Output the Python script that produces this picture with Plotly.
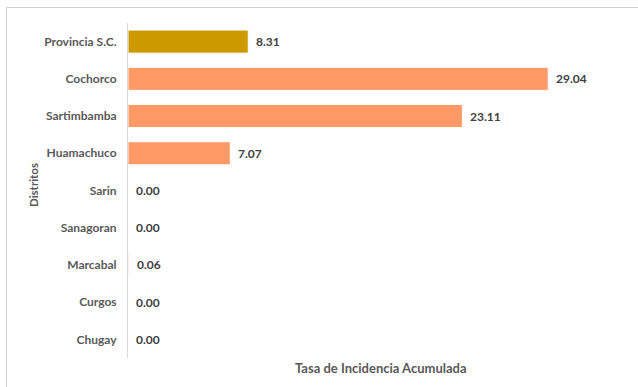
import plotly.graph_objects as go

distritos = ["Provincia S.C.", "Cochorco", "Sartimbamba", "Huamachuco", "Sarin",
             "Sanagoran", "Marcabal", "Curgos", "Chugay"]
tasa = [8.31, 29.04, 23.11, 7.07, 0.00, 0.00, 0.06, 0.00, 0.00]
colores = ["#CC9900"] + ["#FF9966"] * 8
etiquetas = [f"{v:.2f}" for v in tasa]

W, H = 638, 387
L, R, T, B = 128, 18, 23, 29
pw = W - L - R
ph = H - T - B

def px_x(px):
    return (px - L) / pw

def px_y(py):
    return (H - B - py) / ph

fig = go.Figure()
fig.add_trace(go.Bar(
    y=distritos, x=tasa, orientation="h",
    marker=dict(color=colores, line=dict(color="white", width=1)),
    width=0.62, hoverinfo="skip",
))

for d, v, t in zip(distritos, tasa, etiquetas):
    fig.add_annotation(x=v, y=d, text=f"<b>{t}</b>", showarrow=False,
                       xanchor="left", xshift=6,
                       font=dict(family="Lato", size=12, color="#404040"))

# chart-area border
fig.add_shape(type="line", xref="paper", yref="paper",
              x0=px_x(6.5), x1=px_x(W + 5), y0=px_y(7.5), y1=px_y(7.5),
              line=dict(color="#D0D0D0", width=1), layer="below")
fig.add_shape(type="line", xref="paper", yref="paper",
              x0=px_x(6.5), x1=px_x(6.5), y0=px_y(7.5), y1=px_y(H + 5),
              line=dict(color="#D0D0D0", width=1), layer="below")

fig.add_annotation(x=px_x(381), y=px_y(368), xref="paper", yref="paper",
                   xanchor="center", yanchor="middle",
                   text="<b>Tasa de Incidencia Acumulada</b>", showarrow=False,
                   font=dict(family="Lato", size=13, color="#595959"))

fig.add_annotation(x=px_x(33), y=px_y(185), xref="paper", yref="paper",
                   xanchor="center", yanchor="middle",
                   text="<b>Distritos</b>", showarrow=False, textangle=-90,
                   font=dict(family="Lato", size=11.5, color="#595959"))

fig.update_layout(
    width=W, height=H,
    margin=dict(l=L, r=R, t=T, b=B),
    paper_bgcolor="white", plot_bgcolor="white",
    showlegend=False,
    font=dict(family="Lato", color="#595959"),
    xaxis=dict(range=[0, 34], visible=False, fixedrange=True),
    yaxis=dict(autorange="reversed", showline=True, linecolor="#D9D9D9", linewidth=1,
               ticks="", ticklabelstandoff=8, showgrid=False, fixedrange=True,
               tickfont=dict(family="Lato", size=12, color="#595959", weight="bold")),
)

fig.write_html("out.html", config={"displayModeBar": False},
               post_script="document.body.style.margin='0px';")
